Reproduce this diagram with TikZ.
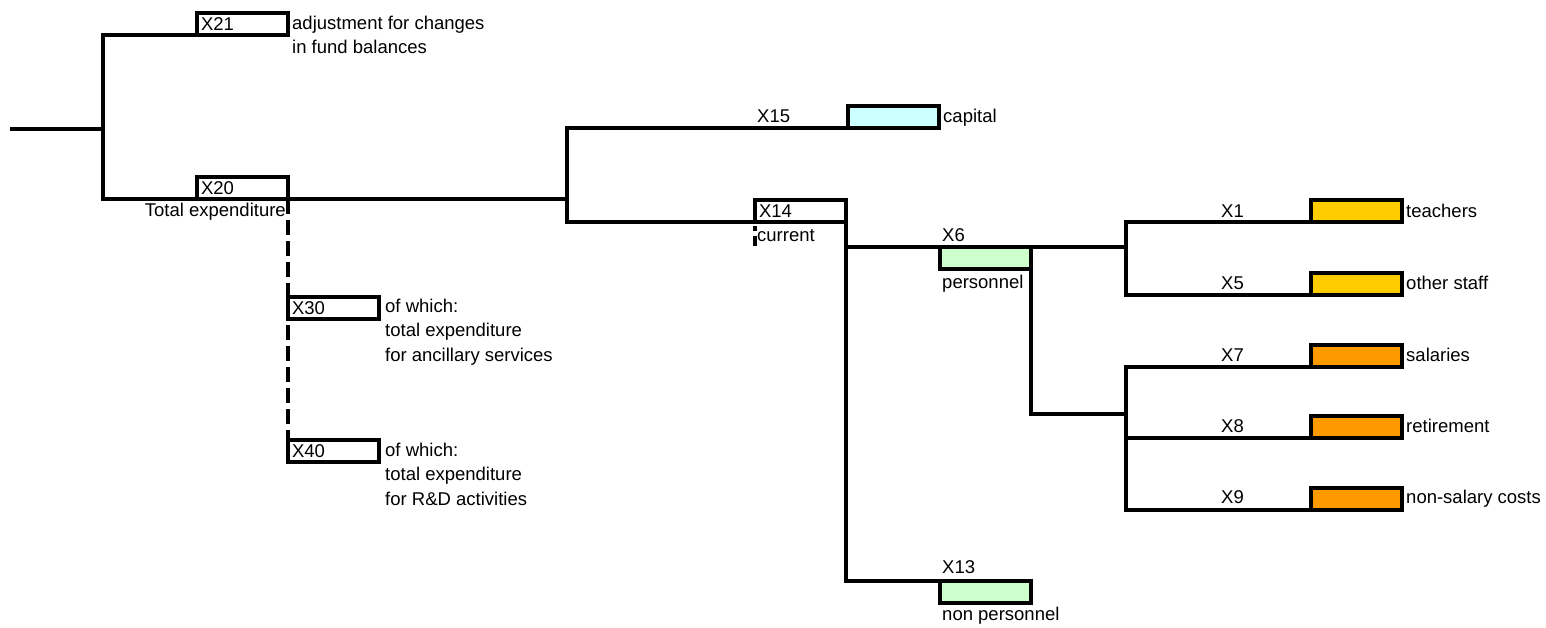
\documentclass[tikz,border=0pt]{standalone}
\usepackage{fontspec}
\setmainfont{Liberation Sans}
\usepackage{xcolor}
\usepackage{tikz}

\definecolor{capcol}{HTML}{CCFFFF}
\definecolor{percol}{HTML}{CCFFCC}
\definecolor{staffcol}{HTML}{FFCC00}
\definecolor{compcol}{HTML}{FF9900}

\tikzset{
	conn/.style={line width=4pt},
	dashconn/.style={line width=4pt, dash pattern=on 15pt off 6pt},
	box/.style={draw, line width=4pt, minimum width=91pt, minimum height=22pt, inner sep=0pt, outer sep=0pt, text width=83pt, align=left, text height=13pt, text depth=0pt},
	lbl/.style={inner sep=0pt, anchor=base west},
	note/.style={inner sep=0pt, anchor=north west, align=left},
}

\begin{document}
\begin{tikzpicture}[x=1pt,y=-1pt,font=\fontsize{18.5}{24.5}\selectfont]
	\useasboundingbox (0,0) rectangle (1546,627);
	%
	\node[box,anchor=south west] (x21) at (197,35) {X21};
	\node[box,anchor=south west] (x20) at (197,199) {X20};
	\node[box,anchor=north west] (x30) at (288,297) {X30};
	\node[box,anchor=north west] (x40) at (288,440) {X40};
	\node[box,anchor=south west,fill=capcol] (x15) at (848,128) {};
	\node[box,anchor=south west] (x14) at (755,222) {X14};
	\node[box,anchor=north west,fill=percol] (x6) at (940,247) {};
	\node[box,anchor=north west,fill=percol] (x13) at (940,581) {};
	\node[box,anchor=south west,fill=staffcol] (x1) at (1311,222) {};
	\node[box,anchor=south west,fill=staffcol] (x5) at (1311,295) {};
	\node[box,anchor=south west,fill=compcol] (x7) at (1311,367) {};
	\node[box,anchor=south west,fill=compcol] (x8) at (1311,438) {};
	\node[box,anchor=south west,fill=compcol] (x9) at (1311,510) {};
	%
	\node[note] (t21) at (292,15.5) {adjustment for changes\\in fund balances};
	\node[inner sep=0pt,anchor=base east] (t20) at (286,216) {Total expenditure};
	\node[note] (t30) at (385,298.5) {of which:\\total expenditure\\for ancillary services};
	\node[note] (t40) at (385,442.5) {of which:\\total expenditure\\for R\&D activities};
	\node[lbl] (l15) at (757,122) {X15};
	\node[lbl] (t15) at (943,122) {capital};
	\node[lbl] (t14) at (757,241) {current};
	\node[lbl] (l6) at (942,241) {X6};
	\node[lbl] (t6) at (942,288) {personnel};
	\node[lbl] (l13) at (942,573) {X13};
	\node[lbl] (t13) at (942,620) {non personnel};
	\node[lbl] (l1) at (1221,217) {X1};
	\node[lbl] (t1) at (1406,217) {teachers};
	\node[lbl] (l5) at (1221,289) {X5};
	\node[lbl] (t5) at (1406,289) {other staff};
	\node[lbl] (l7) at (1221,361) {X7};
	\node[lbl] (t7) at (1406,361) {salaries};
	\node[lbl] (l8) at (1221,432) {X8};
	\node[lbl] (t8) at (1406,432) {retirement};
	\node[lbl] (l9) at (1221,503) {X9};
	\node[lbl] (t9) at (1406,503) {non-salary costs};
	%
	\coordinate (root) at (10,129);
	\coordinate (j0) at (103,129);
	\coordinate (j1) at (567,199);
	\coordinate (j2) at (x14.north east |- x6.north west);
	\coordinate (j3) at (1126,247);
	\coordinate (j4) at (1126,414);
	%
	\draw[conn] (root) -- (j0);
	\draw[conn] (x21.south west) -| (j0) |- (x20.south west);
	\draw[conn] (x20.south east) -- (j1);
	\draw[dashconn] (x20.south east) -- (x40.north west);
	\draw[conn] (x15.south west) -| (j1) |- (x14.south west);
	\draw[conn, dash pattern=on 0pt off 4pt on 5pt off 5pt on 10pt off 10pt] (x14.south west) -- ++(0,25);
	\draw[conn] (x14.north east) |- (x13.north west);
	\draw[conn] (j2) -- (x6.north west);
	\draw[conn] (x6.north east) -- (j3);
	\draw[conn] (x1.south west) -| (j3) |- (x5.south west);
	\draw[conn] (x6.north east) |- (j4);
	\draw[conn] (x7.south west) -| (j4) |- (x9.south west);
	\draw[conn] (j4 |- x8.south west) -- (x8.south west);
\end{tikzpicture}
\end{document}
